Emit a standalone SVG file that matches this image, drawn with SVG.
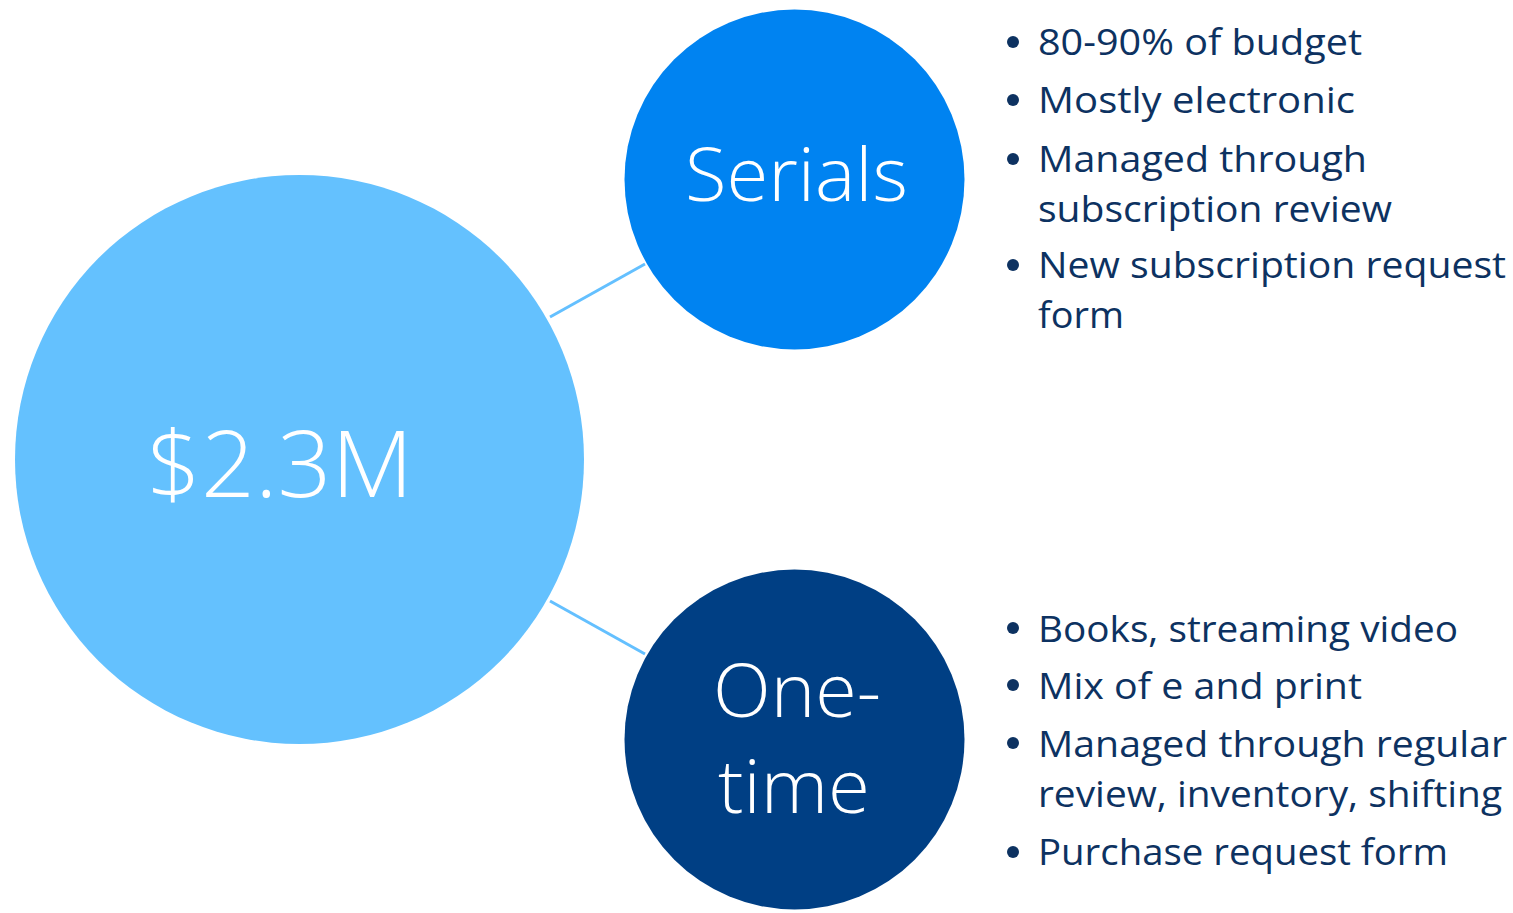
<svg xmlns="http://www.w3.org/2000/svg" width="1513" height="913" viewBox="0 0 1513 913">
<style>
.big{font-family:"Open Sans","Noto Sans","Liberation Sans",sans-serif;font-weight:300;fill:#ffffff;text-anchor:start}
.item{font-family:"Open Sans","Noto Sans","Liberation Sans",sans-serif;font-size:36px;fill:#0D3261}
.dot{fill:#0D3261}
.conn{stroke:#64C0FF;stroke-width:3;fill:none}
</style>
<rect width="1513" height="913" fill="#ffffff"/>
<g id="connectors">
<line class="conn" x1="550" y1="317" x2="645" y2="264"/>
<line class="conn" x1="550" y1="601" x2="645" y2="654"/>
</g>
<g id="node-total">
<circle cx="299.5" cy="459.5" r="284.5" fill="#64C1FE"/>
<text class="big" x="147" y="497" font-size="92" textLength="266" lengthAdjust="spacingAndGlyphs">$2.3M</text>
</g>
<g id="node-serials">
<circle cx="794.5" cy="179.5" r="170" fill="#0083F1"/>
<text class="big" x="685" y="201" font-size="73" textLength="223" lengthAdjust="spacingAndGlyphs">Serials</text>
</g>
<g id="node-onetime">
<circle cx="794.5" cy="739.5" r="170" fill="#003F84"/>
<text class="big" x="713" y="717" font-size="73" textLength="168" lengthAdjust="spacingAndGlyphs">One-</text>
<text class="big" x="718" y="813" font-size="73" textLength="152" lengthAdjust="spacingAndGlyphs">time</text>
</g>
<g id="serials-list">
<circle class="dot" cx="1013" cy="42" r="6"/>
<text class="item" x="1038" y="55" textLength="324" lengthAdjust="spacingAndGlyphs">80-90% of budget</text>
<circle class="dot" cx="1013" cy="100" r="6"/>
<text class="item" x="1038" y="113" textLength="317" lengthAdjust="spacingAndGlyphs">Mostly electronic</text>
<circle class="dot" cx="1013" cy="159" r="6"/>
<text class="item" x="1038" y="172" textLength="329" lengthAdjust="spacingAndGlyphs">Managed through</text>
<text class="item" x="1038" y="222" textLength="354" lengthAdjust="spacingAndGlyphs">subscription review</text>
<circle class="dot" cx="1013" cy="265" r="6"/>
<text class="item" x="1038" y="278" textLength="468" lengthAdjust="spacingAndGlyphs">New subscription request</text>
<text class="item" x="1038" y="328" textLength="86" lengthAdjust="spacingAndGlyphs">form</text>
</g>
<g id="onetime-list">
<circle class="dot" cx="1013" cy="628" r="6"/>
<text class="item" x="1038" y="642" textLength="420" lengthAdjust="spacingAndGlyphs">Books, streaming video</text>
<circle class="dot" cx="1013" cy="685" r="6"/>
<text class="item" x="1038" y="699" textLength="324" lengthAdjust="spacingAndGlyphs">Mix of e and print</text>
<circle class="dot" cx="1013" cy="743" r="6"/>
<text class="item" x="1038" y="757" textLength="469" lengthAdjust="spacingAndGlyphs">Managed through regular</text>
<text class="item" x="1038" y="807" textLength="464" lengthAdjust="spacingAndGlyphs">review, inventory, shifting</text>
<circle class="dot" cx="1013" cy="852" r="6"/>
<text class="item" x="1038" y="865" textLength="410" lengthAdjust="spacingAndGlyphs">Purchase request form</text>
</g>
</svg>
